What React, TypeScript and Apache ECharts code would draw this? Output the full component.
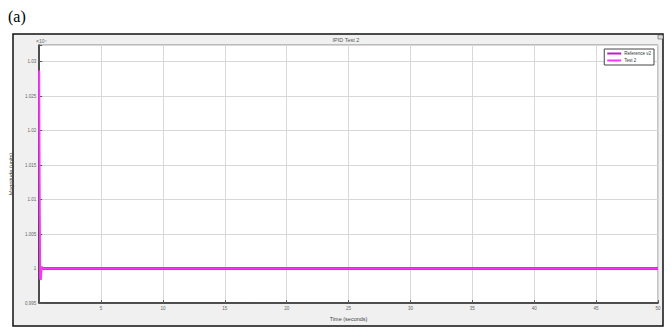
import React, { useEffect, useRef } from "react";
import * as echarts from "echarts";

const xTicks = [5, 10, 15, 20, 25, 30, 35, 40, 45, 50];
const yTickLabels = ["0.995", "1", "1.005", "1.01", "1.015", "1.02", "1.025", "1.03"];
const seriesNames = ["Reference v2", "Test 2"];
const referenceData: [number, number][] = [
  [0.25, 1.0],
  [50, 1.0],
];
const testData: [number, number][] = [
  [0, 1.0287],
  [0.04, 1.012],
  [0.08, 0.9985],
  [0.14, 0.9984],
  [0.2, 1.0003],
  [0.3, 1.0],
  [50, 1.0],
];

export default function App() {
  const ref = useRef<HTMLDivElement>(null);
  useEffect(() => {
    if (!ref.current) return;
    const chart = echarts.init(ref.current, null, { renderer: "svg" });
    const tinyFont = { fontSize: 4.5, color: "#666", fontFamily: "Liberation Sans" };
    chart.setOption({
      animation: false,
      backgroundColor: "#ffffff",
      grid: {
        left: 35,
        right: 12,
        top: 45,
        bottom: 19,
        show: true,
        backgroundColor: "#ffffff",
        borderColor: "#888",
        borderWidth: 1,
      },
      legend: {
        data: seriesNames,
        orient: "vertical",
        right: 16,
        top: 49,
        itemWidth: 14,
        itemHeight: 2,
        itemGap: 2,
        icon: "rect",
        padding: [2, 3, 2, 3],
        backgroundColor: "#fff",
        borderColor: "#444",
        borderWidth: 1,
        textStyle: { fontSize: 4.5, color: "#333", padding: [0, 0, 0, -2] },
      },
      graphic: [
        {
          type: "rect",
          z: -10,
          shape: { x: 13, y: 34, width: 650, height: 292 },
          style: { fill: "#f0f0f0", stroke: "#111", lineWidth: 1.5 },
        },
        {
          type: "text",
          x: 8,
          y: 8,
          style: { text: "(a)", fontSize: 16, fontFamily: "serif", fill: "#000" },
        },
        {
          type: "text",
          x: 346,
          y: 40,
          style: { text: "IPID Test 2", fontSize: 5.5, fill: "#555", align: "center", verticalAlign: "middle", fontFamily: "Liberation Sans" },
        },
        {
          type: "text",
          x: 36,
          y: 41,
          style: { text: "×10⁴", fontSize: 5, fill: "#666", verticalAlign: "middle", fontFamily: "Liberation Sans" },
        },
        {
          type: "rect",
          shape: { x: 658, y: 35, width: 5, height: 4 },
          style: { fill: "#ddd", stroke: "#555", lineWidth: 0.6 },
        },
      ],
      xAxis: {
        type: "value",
        min: 0,
        max: 50,
        interval: 5,
        name: "Time (seconds)",
        nameLocation: "middle",
        nameGap: 10,
        nameTextStyle: { ...tinyFont, fontSize: 5.5, color: "#444" },
        axisLine: { show: true, onZero: false, lineStyle: { color: "#222", width: 1.5 } },
        axisTick: { show: true, inside: true, length: 3, lineStyle: { color: "#555" } },
        axisLabel: {
          ...tinyFont,
          margin: 3,
          formatter: (v: number) => (xTicks.includes(Math.round(v)) ? String(Math.round(v)) : ""),
        },
        splitLine: { show: true, lineStyle: { color: "#d8d8d8", width: 1 } },
      },
      yAxis: {
        type: "value",
        min: 0.995,
        max: 1.0324,
        interval: 0.005,
        name: "Magnitude (units)",
        nameLocation: "middle",
        nameGap: 16,
        nameTextStyle: { ...tinyFont, fontSize: 5.5, color: "#444" },
        axisLine: { show: true, onZero: false, lineStyle: { color: "#222", width: 1.5 } },
        axisTick: { show: true, inside: true, length: 3, lineStyle: { color: "#555" } },
        axisLabel: {
          ...tinyFont,
          margin: 3,
          formatter: (v: number) => {
            const s = String(Number(v.toFixed(4)));
            return yTickLabels.includes(s) ? s : "";
          },
        },
        splitLine: { show: true, lineStyle: { color: "#d8d8d8", width: 1 } },
      },
      series: [
        {
          name: seriesNames[0],
          type: "line",
          data: referenceData,
          showSymbol: false,
          lineStyle: { color: "#c21bc2", width: 3 },
          itemStyle: { color: "#c21bc2" },
          z: 2,
        },
        {
          name: seriesNames[1],
          type: "line",
          data: testData,
          showSymbol: false,
          lineStyle: { color: "#ff33ff", width: 2 },
          itemStyle: { color: "#ff33ff" },
          z: 3,
        },
      ],
    });
    return () => chart.dispose();
  }, []);
  return (
    <div
      ref={ref}
      style={{ position: "fixed", left: 0, top: 0, width: 670, height: 327 }}
    />
  );
}
